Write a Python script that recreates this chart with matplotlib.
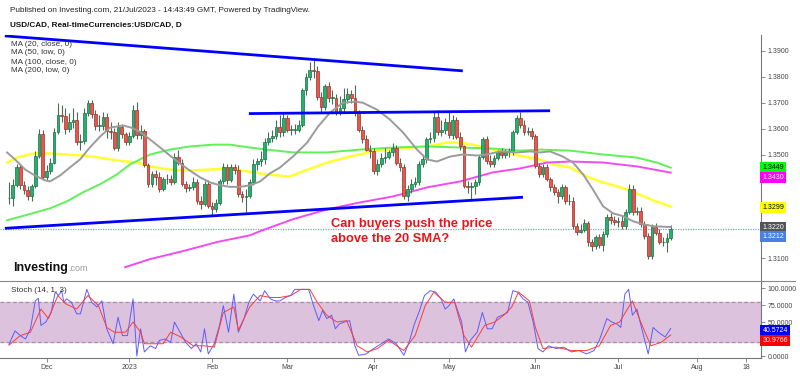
import matplotlib
matplotlib.use("Agg")
import matplotlib.pyplot as plt
import matplotlib.transforms as mtransforms
from matplotlib.lines import Line2D
import numpy as np
import pandas as pd

plt.rcParams["font.family"] = ["Liberation Sans", "DejaVu Sans"]

# Velas diarias USD/CAD (17/Nov/2022 - 21/Jul/2023)
fechas = pd.bdate_range("2022-11-17", periods=177)

apertura = [
    1.3331, 1.3331, 1.3381, 1.3450, 1.3381, 1.3362, 1.3338, 1.3377, 1.3496, 1.3581,
    1.3415, 1.3435, 1.3469, 1.3588, 1.3654, 1.3650, 1.3600, 1.3627, 1.3635, 1.3550,
    1.3554, 1.3662, 1.3700, 1.3658, 1.3612, 1.3612, 1.3646, 1.3592, 1.3585, 1.3527,
    1.3608, 1.3581, 1.3550, 1.3573, 1.3673, 1.3577, 1.3592, 1.3458, 1.3388, 1.3423,
    1.3415, 1.3365, 1.3404, 1.3404, 1.3392, 1.3492, 1.3469, 1.3385, 1.3369, 1.3373,
    1.3392, 1.3319, 1.3308, 1.3388, 1.3300, 1.3288, 1.3312, 1.3396, 1.3450, 1.3400,
    1.3450, 1.3442, 1.3346, 1.3335, 1.3338, 1.3392, 1.3462, 1.3473, 1.3481, 1.3550,
    1.3565, 1.3573, 1.3608, 1.3585, 1.3642, 1.3596, 1.3596, 1.3596, 1.3615, 1.3750,
    1.3800, 1.3827, 1.3823, 1.3723, 1.3685, 1.3765, 1.3719, 1.3719, 1.3665, 1.3681,
    1.3715, 1.3735, 1.3719, 1.3662, 1.3596, 1.3558, 1.3519, 1.3512, 1.3435, 1.3462,
    1.3488, 1.3492, 1.3508, 1.3527, 1.3469, 1.3450, 1.3338, 1.3365, 1.3388, 1.3392,
    1.3462, 1.3481, 1.3558, 1.3562, 1.3646, 1.3588, 1.3596, 1.3627, 1.3577, 1.3635,
    1.3569, 1.3531, 1.3377, 1.3373, 1.3377, 1.3392, 1.3492, 1.3558, 1.3473, 1.3462,
    1.3488, 1.3508, 1.3500, 1.3508, 1.3512, 1.3588, 1.3642, 1.3615, 1.3585, 1.3592,
    1.3573, 1.3454, 1.3423, 1.3450, 1.3404, 1.3373, 1.3354, 1.3338, 1.3373, 1.3319,
    1.3319, 1.3223, 1.3200, 1.3208, 1.3235, 1.3162, 1.3146, 1.3181, 1.3150, 1.3192,
    1.3258, 1.3246, 1.3238, 1.3242, 1.3223, 1.3277, 1.3365, 1.3277, 1.3281, 1.3231,
    1.3185, 1.3108, 1.3219, 1.3196, 1.3162, 1.3162, 1.3177,
]
maximo = [
    1.3392, 1.3404, 1.3465, 1.3462, 1.3396, 1.3377, 1.3388, 1.3512, 1.3600, 1.3596,
    1.3458, 1.3485, 1.3604, 1.3700, 1.3692, 1.3681, 1.3662, 1.3681, 1.3665, 1.3581,
    1.3681, 1.3712, 1.3712, 1.3673, 1.3654, 1.3665, 1.3662, 1.3627, 1.3604, 1.3627,
    1.3619, 1.3588, 1.3588, 1.3692, 1.3704, 1.3615, 1.3600, 1.3469, 1.3435, 1.3442,
    1.3431, 1.3415, 1.3423, 1.3419, 1.3504, 1.3519, 1.3481, 1.3396, 1.3388, 1.3412,
    1.3404, 1.3338, 1.3396, 1.3400, 1.3315, 1.3327, 1.3404, 1.3469, 1.3462, 1.3462,
    1.3462, 1.3458, 1.3358, 1.3365, 1.3404, 1.3481, 1.3488, 1.3512, 1.3565, 1.3585,
    1.3596, 1.3635, 1.3654, 1.3662, 1.3654, 1.3615, 1.3619, 1.3635, 1.3758, 1.3815,
    1.3858, 1.3865, 1.3842, 1.3742, 1.3773, 1.3781, 1.3750, 1.3735, 1.3727, 1.3758,
    1.3758, 1.3750, 1.3769, 1.3673, 1.3612, 1.3577, 1.3538, 1.3527, 1.3481, 1.3504,
    1.3527, 1.3519, 1.3546, 1.3538, 1.3488, 1.3462, 1.3381, 1.3404, 1.3415, 1.3473,
    1.3500, 1.3569, 1.3588, 1.3665, 1.3673, 1.3635, 1.3642, 1.3665, 1.3654, 1.3646,
    1.3588, 1.3538, 1.3396, 1.3392, 1.3404, 1.3500, 1.3569, 1.3573, 1.3500, 1.3500,
    1.3519, 1.3527, 1.3523, 1.3527, 1.3596, 1.3654, 1.3665, 1.3635, 1.3608, 1.3604,
    1.3581, 1.3469, 1.3462, 1.3462, 1.3415, 1.3388, 1.3365, 1.3385, 1.3381, 1.3346,
    1.3335, 1.3235, 1.3231, 1.3250, 1.3242, 1.3173, 1.3188, 1.3192, 1.3204, 1.3269,
    1.3273, 1.3262, 1.3258, 1.3265, 1.3288, 1.3385, 1.3381, 1.3296, 1.3296, 1.3242,
    1.3196, 1.3231, 1.3235, 1.3212, 1.3181, 1.3196, 1.3227,
]
minimo = [
    1.3308, 1.3300, 1.3373, 1.3365, 1.3346, 1.3323, 1.3319, 1.3369, 1.3488, 1.3404,
    1.3400, 1.3423, 1.3462, 1.3581, 1.3627, 1.3581, 1.3585, 1.3604, 1.3538, 1.3519,
    1.3542, 1.3650, 1.3642, 1.3596, 1.3592, 1.3596, 1.3565, 1.3558, 1.3519, 1.3512,
    1.3565, 1.3538, 1.3535, 1.3565, 1.3558, 1.3558, 1.3450, 1.3373, 1.3373, 1.3381,
    1.3354, 1.3358, 1.3385, 1.3381, 1.3385, 1.3458, 1.3377, 1.3354, 1.3358, 1.3362,
    1.3308, 1.3288, 1.3300, 1.3292, 1.3265, 1.3277, 1.3304, 1.3388, 1.3388, 1.3392,
    1.3423, 1.3335, 1.3315, 1.3277, 1.3331, 1.3381, 1.3442, 1.3454, 1.3465, 1.3538,
    1.3550, 1.3558, 1.3569, 1.3573, 1.3585, 1.3577, 1.3581, 1.3585, 1.3608, 1.3731,
    1.3788, 1.3796, 1.3712, 1.3665, 1.3673, 1.3704, 1.3696, 1.3654, 1.3654, 1.3665,
    1.3700, 1.3700, 1.3650, 1.3585, 1.3546, 1.3512, 1.3488, 1.3423, 1.3419, 1.3450,
    1.3469, 1.3481, 1.3496, 1.3458, 1.3435, 1.3327, 1.3319, 1.3350, 1.3373, 1.3381,
    1.3450, 1.3469, 1.3546, 1.3550, 1.3577, 1.3573, 1.3581, 1.3565, 1.3558, 1.3558,
    1.3519, 1.3369, 1.3350, 1.3319, 1.3346, 1.3381, 1.3481, 1.3462, 1.3450, 1.3450,
    1.3477, 1.3488, 1.3485, 1.3492, 1.3500, 1.3581, 1.3604, 1.3577, 1.3577, 1.3558,
    1.3446, 1.3412, 1.3412, 1.3396, 1.3358, 1.3342, 1.3312, 1.3327, 1.3308, 1.3304,
    1.3212, 1.3188, 1.3196, 1.3200, 1.3146, 1.3127, 1.3135, 1.3138, 1.3127, 1.3181,
    1.3231, 1.3227, 1.3219, 1.3212, 1.3212, 1.3269, 1.3265, 1.3265, 1.3219, 1.3173,
    1.3096, 1.3096, 1.3188, 1.3154, 1.3146, 1.3123, 1.3169,
]
cierre = [
    1.3331, 1.3381, 1.3450, 1.3381, 1.3362, 1.3338, 1.3377, 1.3496, 1.3581, 1.3415,
    1.3435, 1.3469, 1.3588, 1.3654, 1.3650, 1.3600, 1.3627, 1.3635, 1.3550, 1.3554,
    1.3662, 1.3700, 1.3658, 1.3612, 1.3612, 1.3646, 1.3592, 1.3585, 1.3527, 1.3608,
    1.3581, 1.3550, 1.3573, 1.3673, 1.3577, 1.3592, 1.3458, 1.3388, 1.3423, 1.3415,
    1.3365, 1.3404, 1.3404, 1.3392, 1.3492, 1.3469, 1.3385, 1.3369, 1.3373, 1.3392,
    1.3319, 1.3308, 1.3388, 1.3300, 1.3288, 1.3312, 1.3396, 1.3450, 1.3400, 1.3450,
    1.3442, 1.3346, 1.3335, 1.3338, 1.3392, 1.3462, 1.3473, 1.3481, 1.3550, 1.3565,
    1.3573, 1.3608, 1.3585, 1.3642, 1.3596, 1.3596, 1.3596, 1.3615, 1.3750, 1.3800,
    1.3827, 1.3823, 1.3723, 1.3685, 1.3765, 1.3719, 1.3719, 1.3665, 1.3681, 1.3715,
    1.3735, 1.3719, 1.3662, 1.3596, 1.3558, 1.3519, 1.3512, 1.3435, 1.3462, 1.3488,
    1.3492, 1.3508, 1.3527, 1.3469, 1.3450, 1.3338, 1.3365, 1.3388, 1.3392, 1.3462,
    1.3481, 1.3558, 1.3562, 1.3646, 1.3588, 1.3596, 1.3627, 1.3577, 1.3635, 1.3569,
    1.3531, 1.3377, 1.3373, 1.3377, 1.3392, 1.3492, 1.3558, 1.3473, 1.3462, 1.3488,
    1.3508, 1.3500, 1.3508, 1.3512, 1.3588, 1.3642, 1.3615, 1.3585, 1.3592, 1.3573,
    1.3454, 1.3423, 1.3450, 1.3404, 1.3373, 1.3354, 1.3338, 1.3373, 1.3319, 1.3319,
    1.3223, 1.3200, 1.3208, 1.3235, 1.3162, 1.3146, 1.3181, 1.3150, 1.3192, 1.3258,
    1.3246, 1.3238, 1.3242, 1.3223, 1.3277, 1.3365, 1.3277, 1.3281, 1.3231, 1.3185,
    1.3108, 1.3219, 1.3196, 1.3162, 1.3162, 1.3177, 1.3212,
]

# Medias moviles (posicion en barras)
ma20_barra = [-0.5, 1.6, 4.3, 6.4, 9.6, 10.9, 13.6, 16.2, 18.9, 21.5, 24.2, 26.9, 30.3,
              32.5, 34.8, 37.5, 40.2, 42.8, 45.5, 48.1, 50.8, 53.5, 56.1, 58.8, 61.4,
              64.1, 66.8, 69.4, 72.1, 75.5, 79.3, 82.2, 85.4, 88.8, 92, 94.1, 97.9,
              101.3, 104.8, 108.5, 111.2, 113.8, 117.3, 120.7, 124.5, 127.1, 130.6,
              135.1, 138.6, 141.2, 143.9, 147.3, 150, 152.7, 155.3, 158, 160.6, 163.3,
              166, 168.6, 171.3, 176]
ma20_valor = [1.3508, 1.3481, 1.3442, 1.3423, 1.3400, 1.3396, 1.3419, 1.3450, 1.3481,
              1.3527, 1.3569, 1.3604, 1.3612, 1.3604, 1.3588, 1.3558, 1.3527, 1.3496,
              1.3465, 1.3438, 1.3412, 1.3392, 1.3381, 1.3375, 1.3375, 1.3381, 1.3396,
              1.3427, 1.3450, 1.3492, 1.3546, 1.3608, 1.3662, 1.3700, 1.3704, 1.3700,
              1.3673, 1.3635, 1.3585, 1.3519, 1.3481, 1.3473, 1.3492, 1.3500, 1.3496,
              1.3500, 1.3512, 1.3508, 1.3512, 1.3508, 1.3512, 1.3492, 1.3469, 1.3423,
              1.3365, 1.3300, 1.3273, 1.3262, 1.3242, 1.3231, 1.3223, 1.3220]

ma50_barra = [-0.5, 2.1, 6.4, 10.9, 15.4, 19.7, 24.2, 28.7, 34, 37.5, 42.8, 48.1, 53.5,
              58.8, 63.3, 68.6, 74.7, 78.2, 84.6, 90.7, 96.8, 104, 111.2, 116.5, 120,
              123.4, 128.7, 134, 141.2, 144.7, 149.2, 153.7, 157.2, 164.4, 171.3, 176]
ma50_valor = [1.3469, 1.3488, 1.3504, 1.3504, 1.3500, 1.3496, 1.3488, 1.3477, 1.3469,
              1.3454, 1.3442, 1.3438, 1.3442, 1.3446, 1.3435, 1.3423, 1.3415, 1.3435,
              1.3469, 1.3492, 1.3512, 1.3523, 1.3531, 1.3546, 1.3546, 1.3538, 1.3519,
              1.3500, 1.3481, 1.3462, 1.3450, 1.3415, 1.3396, 1.3365, 1.3323, 1.3299]

ma100_barra = [-0.5, 4.3, 10.9, 15.4, 19.7, 24.2, 28.7, 32.2, 37.5, 42.8, 48.1, 54.3,
               58.8, 64.1, 68.6, 75.5, 84.6, 93.4, 102.1, 111.2, 120, 128.7, 135.9,
               141.2, 149.2, 158, 167, 172.3, 176]
ma100_valor = [1.3246, 1.3265, 1.3292, 1.3319, 1.3354, 1.3385, 1.3423, 1.3462, 1.3500,
               1.3519, 1.3531, 1.3538, 1.3538, 1.3527, 1.3519, 1.3508, 1.3508, 1.3519,
               1.3527, 1.3531, 1.3527, 1.3523, 1.3515, 1.3519, 1.3515, 1.3500, 1.3488,
               1.3469, 1.3449]

ma200_barra = [30.9, 37.5, 46.3, 55.3, 64.1, 66.8, 75.5, 84.6, 93.4, 102.1, 111.2, 120,
               128.7, 135.9, 143.1, 149.2, 158, 167, 176]
ma200_valor = [1.3065, 1.3096, 1.3127, 1.3162, 1.3188, 1.3204, 1.3250, 1.3288, 1.3315,
               1.3338, 1.3373, 1.3396, 1.3431, 1.3446, 1.3469, 1.3473, 1.3469, 1.3454,
               1.3430]

# Lineas de tendencia dibujadas (barra, precio)
lineas = [
    ([-1.1, 120.7], [1.3958, 1.3823]),
    ([63.8, 143.9], [1.3658, 1.3669]),
    ([-1.1, 136.7], [1.3215, 1.3335]),
]

# Estocastico (14, 1, 3)
stoch_k_barra = [0, 1.6, 3, 4.4, 5.7, 7, 7.8, 8.5, 9.8, 11.2, 12.3, 13.2, 14, 14.6, 15.3,
                 16.6, 18, 19, 20.7, 22, 23.4, 24.7, 26, 27.7, 29, 30.2, 31.5, 33, 34,
                 35, 36, 37.6, 39, 40, 41.6, 43, 44, 45.7, 47, 48.5, 49.8, 51, 52, 53,
                 54.6, 56, 57, 58.4, 59.8, 61, 62.5, 63.8, 65, 66.8, 68, 69.5, 70.8, 72,
                 73.5, 74.9, 76, 78, 79.7, 81, 82.4, 83.4, 84.5, 85.8, 86.8, 87.8, 89.2,
                 90.6, 92, 93, 95, 97, 99, 101, 103, 105, 106.4, 107.7, 109, 110.5, 112,
                 113.5, 114.9, 116, 117, 118.3, 119, 120.4, 121.4, 122.7, 124.5, 125.9,
                 127.2, 128.5, 129.9, 131.2, 132.6, 134, 135.3, 136.7, 138, 139.4, 140.7,
                 142, 143.5, 145.5, 147.5, 149.6, 151.6, 153.6, 155.6, 157, 159, 160.3,
                 161.7, 162.7, 163.8, 164.8, 165.8, 167, 168.3, 170, 171.3, 172.7, 174.5,
                 176]
stoch_k_valor = [17, 37, 30, 25, 40, 81, 85, 45, 50, 64, 94, 89, 96, 79, 84, 79, 62, 62,
                 98, 79, 72, 81, 40, 18, 57, 30, 30, 84, 0, 40, 6, 15, 11, 23, 25, 20, 50,
                 33, 20, 11, 18, 6, 40, 3, 18, 45, 74, 35, 91, 35, 55, 79, 91, 81, 96, 84,
                 81, 81, 86, 89, 98, 98, 98, 74, 52, 67, 55, 60, 40, 47, 50, 52, 15, 1, 3,
                 11, 18, 25, 18, 1, 20, 45, 64, 89, 96, 94, 84, 69, 74, 84, 72, 50, 6, 23,
                 35, 64, 40, 40, 57, 60, 64, 96, 94, 84, 79, 50, 11, 6, 15, 11, 13, 6, 8,
                 3, 8, 23, 55, 50, 47, 42, 91, 98, 60, 69, 40, 3, 42, 35, 28, 40.57]
stoch_d_barra = [0, 3, 5.7, 8.5, 10.5, 13, 15, 18, 21, 23.8, 26, 28, 31, 33, 35, 36, 38,
                 41, 43, 45.7, 49, 52, 54.6, 57, 59.8, 61, 64, 66.8, 69.5, 72, 75, 77.6,
                 80, 82, 84.5, 87.2, 89.8, 92.6, 95.3, 98, 101, 105, 108, 110.7, 113, 116,
                 118.5, 121, 123, 126.5, 129.2, 131.6, 133.7, 135.5, 138.4, 140, 142,
                 145.5, 149.6, 153.6, 157, 160, 162.4, 165.8, 168, 170.7, 173.4, 176]
stoch_d_valor = [16, 30, 35, 69, 55, 89, 77, 69, 89, 74, 42, 35, 35, 50, 35, 18, 18, 18,
                 35, 28, 15, 15, 13, 64, 72, 38, 72, 89, 86, 86, 89, 98, 98, 79, 60, 50,
                 52, 15, 6, 11, 23, 8, 30, 74, 94, 79, 79, 30, 13, 45, 50, 60, 72, 94, 81,
                 42, 11, 13, 8, 8, 15, 45, 50, 81, 50, 15, 20, 30.98]

# Etiquetas del eje de fechas
meses_fechas = ["2022-12-01", "2023-01-02", "2023-02-01", "2023-03-01", "2023-04-03",
                "2023-05-01", "2023-06-01", "2023-07-03", "2023-08-01", "2023-08-18"]
meses_etiquetas = ["Dec", "2023", "Feb", "Mar", "Apr", "May", "Jun", "Jul", "Aug", "18"]
calendario = pd.bdate_range("2022-11-17", "2023-08-31")
meses_pos = calendario.get_indexer(pd.to_datetime(meses_fechas))

precio_ticks = [1.31, 1.32, 1.33, 1.34, 1.35, 1.36, 1.37, 1.38, 1.39]
stoch_ticks = [0, 25, 50, 75, 100]
# ticks tapados por las etiquetas de valor
precio_tapados = [1.32, 1.33, 1.34]
stoch_tapados = [25]

W, H = 800, 376
fig = plt.figure(figsize=(W / 100, H / 100), dpi=100)
fig.patch.set_facecolor("white")


def fx(px):
    return px / W


def fy(py):
    return 1 - py / H


ax = fig.add_axes([0, fy(281), fx(761), (281 - 35) / H])
ax2 = fig.add_axes([0, fy(358), fx(761), (358 - 281) / H])

x = np.arange(len(cierre))
o = np.array(apertura)
c = np.array(cierre)
hi = np.array(maximo)
lo = np.array(minimo)
sube = c >= o

# Velas
ax.vlines(x, lo, hi, color="#4d6b58", linewidth=0.8, zorder=3)
cuerpo = np.maximum(np.abs(c - o), 0.00015)
ax.bar(x, cuerpo, bottom=np.minimum(o, c), width=0.72,
       color=np.where(sube, "#1fb36c", "#e8574b"),
       edgecolor=np.where(sube, "#1d6e45", "#9c3128"), linewidth=0.5, zorder=4)

# Medias moviles
ax.plot(ma20_barra, ma20_valor, color="#9b9b9b", linewidth=1.4, zorder=5)
ax.plot(ma50_barra, ma50_valor, color="#ffff33", linewidth=1.8, zorder=2)
ax.plot(ma100_barra, ma100_valor, color="#5ff05a", linewidth=1.4, zorder=2)
ax.plot(ma200_barra, ma200_valor, color="#f04cf0", linewidth=1.4, zorder=2)

for lx, ly in lineas:
    ax.plot(lx, ly, color="#0000ff", linewidth=2.0, zorder=6, solid_capstyle="butt")

ax.axhline(cierre[-1], color="#7f9cff", linestyle=(0, (1, 1)), linewidth=0.9, zorder=1)

ax.set_xlim(-2.39, 200)
ax.set_ylim(1.30115, 1.39615)
ax.set_xticks([])
ax.yaxis.tick_right()
ax.set_yticks(precio_ticks)
ax.set_yticklabels(["" if t in precio_tapados else f"{t:.4f}" for t in precio_ticks])
ax.tick_params(axis="y", length=3, width=0.6, colors="#777777", labelsize=5,
               labelcolor="#444444", pad=1.5)
for lado in ["top", "left", "bottom"]:
    ax.spines[lado].set_visible(False)
ax.spines["right"].set_color("#777777")
ax.spines["right"].set_linewidth(0.8)

# Etiquetas de valor a la derecha
mix = mtransforms.blended_transform_factory(ax.transAxes, ax.transData)
etiquetas = [
    ("1.3449", 1.3450, "#00ff00", "black"),
    ("1.3430", 1.3412, "#ff00ff", "white"),
    ("1.3299", 1.3296, "#ffff00", "black"),
    ("1.3220", 1.3219, "#555555", "white"),
    ("1.3212", 1.3183, "#4a7fe6", "white"),
]
for txt, yv, bg, fg in etiquetas:
    ax.text(1.002, yv, txt, transform=mix, fontsize=5, color=fg, va="center", ha="left",
            bbox=dict(boxstyle="square,pad=0.3", fc=bg, ec="none"), clip_on=False, zorder=10)

# Texto del analista
fig.text(fx(331), fy(224), "Can buyers push the price", color="#e8141b", fontsize=9.3,
         weight="bold", va="center")
fig.text(fx(331), fy(239), "above the 20 SMA?", color="#e8141b", fontsize=9.3,
         weight="bold", va="center")

# Estocastico
ax2.axhspan(20, 80, color="#dcc2dc", zorder=0)
ax2.axhline(80, color="#a890a8", linestyle=(0, (3, 2)), linewidth=0.9, zorder=1)
ax2.axhline(20, color="#a890a8", linestyle=(0, (3, 2)), linewidth=0.9, zorder=1)
ax2.plot(stoch_k_barra, stoch_k_valor, color="#5c5cff", linewidth=0.7, zorder=3)
ax2.plot(stoch_d_barra, stoch_d_valor, color="#ff3b3b", linewidth=0.7, zorder=4)
ax2.set_xlim(-2.39, 200)
ax2.set_ylim(-2.94, 110.3)
ax2.yaxis.tick_right()
ax2.set_yticks(stoch_ticks)
ax2.set_yticklabels(["" if t in stoch_tapados else f"{t:.4f}" for t in stoch_ticks])
ax2.set_xticks(meses_pos)
ax2.set_xticklabels(meses_etiquetas)
ax2.tick_params(axis="both", length=3, width=0.6, colors="#777777", labelsize=5,
                labelcolor="#444444", pad=1.5)
for lado in ["top", "left"]:
    ax2.spines[lado].set_visible(False)
for lado in ["right", "bottom"]:
    ax2.spines[lado].set_color("#777777")
    ax2.spines[lado].set_linewidth(0.8)

mix2 = mtransforms.blended_transform_factory(ax2.transAxes, ax2.transData)
for txt, yv, bg in [("40.5724", 37.0, "#0000ff"), ("30.9766", 22.5, "#ff0000")]:
    ax2.text(1.002, yv, txt, transform=mix2, fontsize=5, color="white", va="center",
             ha="left", bbox=dict(boxstyle="square,pad=0.3", fc=bg, ec="none"),
             clip_on=False, zorder=10)

# Separador entre paneles
fig.add_artist(Line2D([0, fx(795)], [fy(281), fy(281)], color="#888888", linewidth=0.8))

# Cabecera y leyendas
fig.text(fx(10), fy(11), "Published on Investing.com, 21/Jul/2023 - 14:43:49 GMT, Powered by TradingView.",
         fontsize=5.9, color="#222222", va="center")
fig.text(fx(10), fy(25), "USD/CAD, Real-timeCurrencies:USD/CAD, D", fontsize=5.9,
         weight="bold", color="#111111", va="center")
for k, txt in enumerate(["MA (20, close, 0)", "MA (50, low, 0)", "MA (100, close, 0)",
                         "MA (200, low, 0)"]):
    fig.text(fx(11), fy(44 + 9 * k), txt, fontsize=5.9, color="#333333", va="center")
fig.text(fx(11), fy(291), "Stoch (14, 1, 3)", fontsize=5.9, color="#333333", va="center")

fig.text(fx(13), fy(271), "Investing", fontsize=9, weight="bold", color="#111111",
         va="baseline")
fig.text(fx(68), fy(271), ".com", fontsize=6.5, color="#9a9a9a", va="baseline")

fig.savefig("out.png", dpi=100)
